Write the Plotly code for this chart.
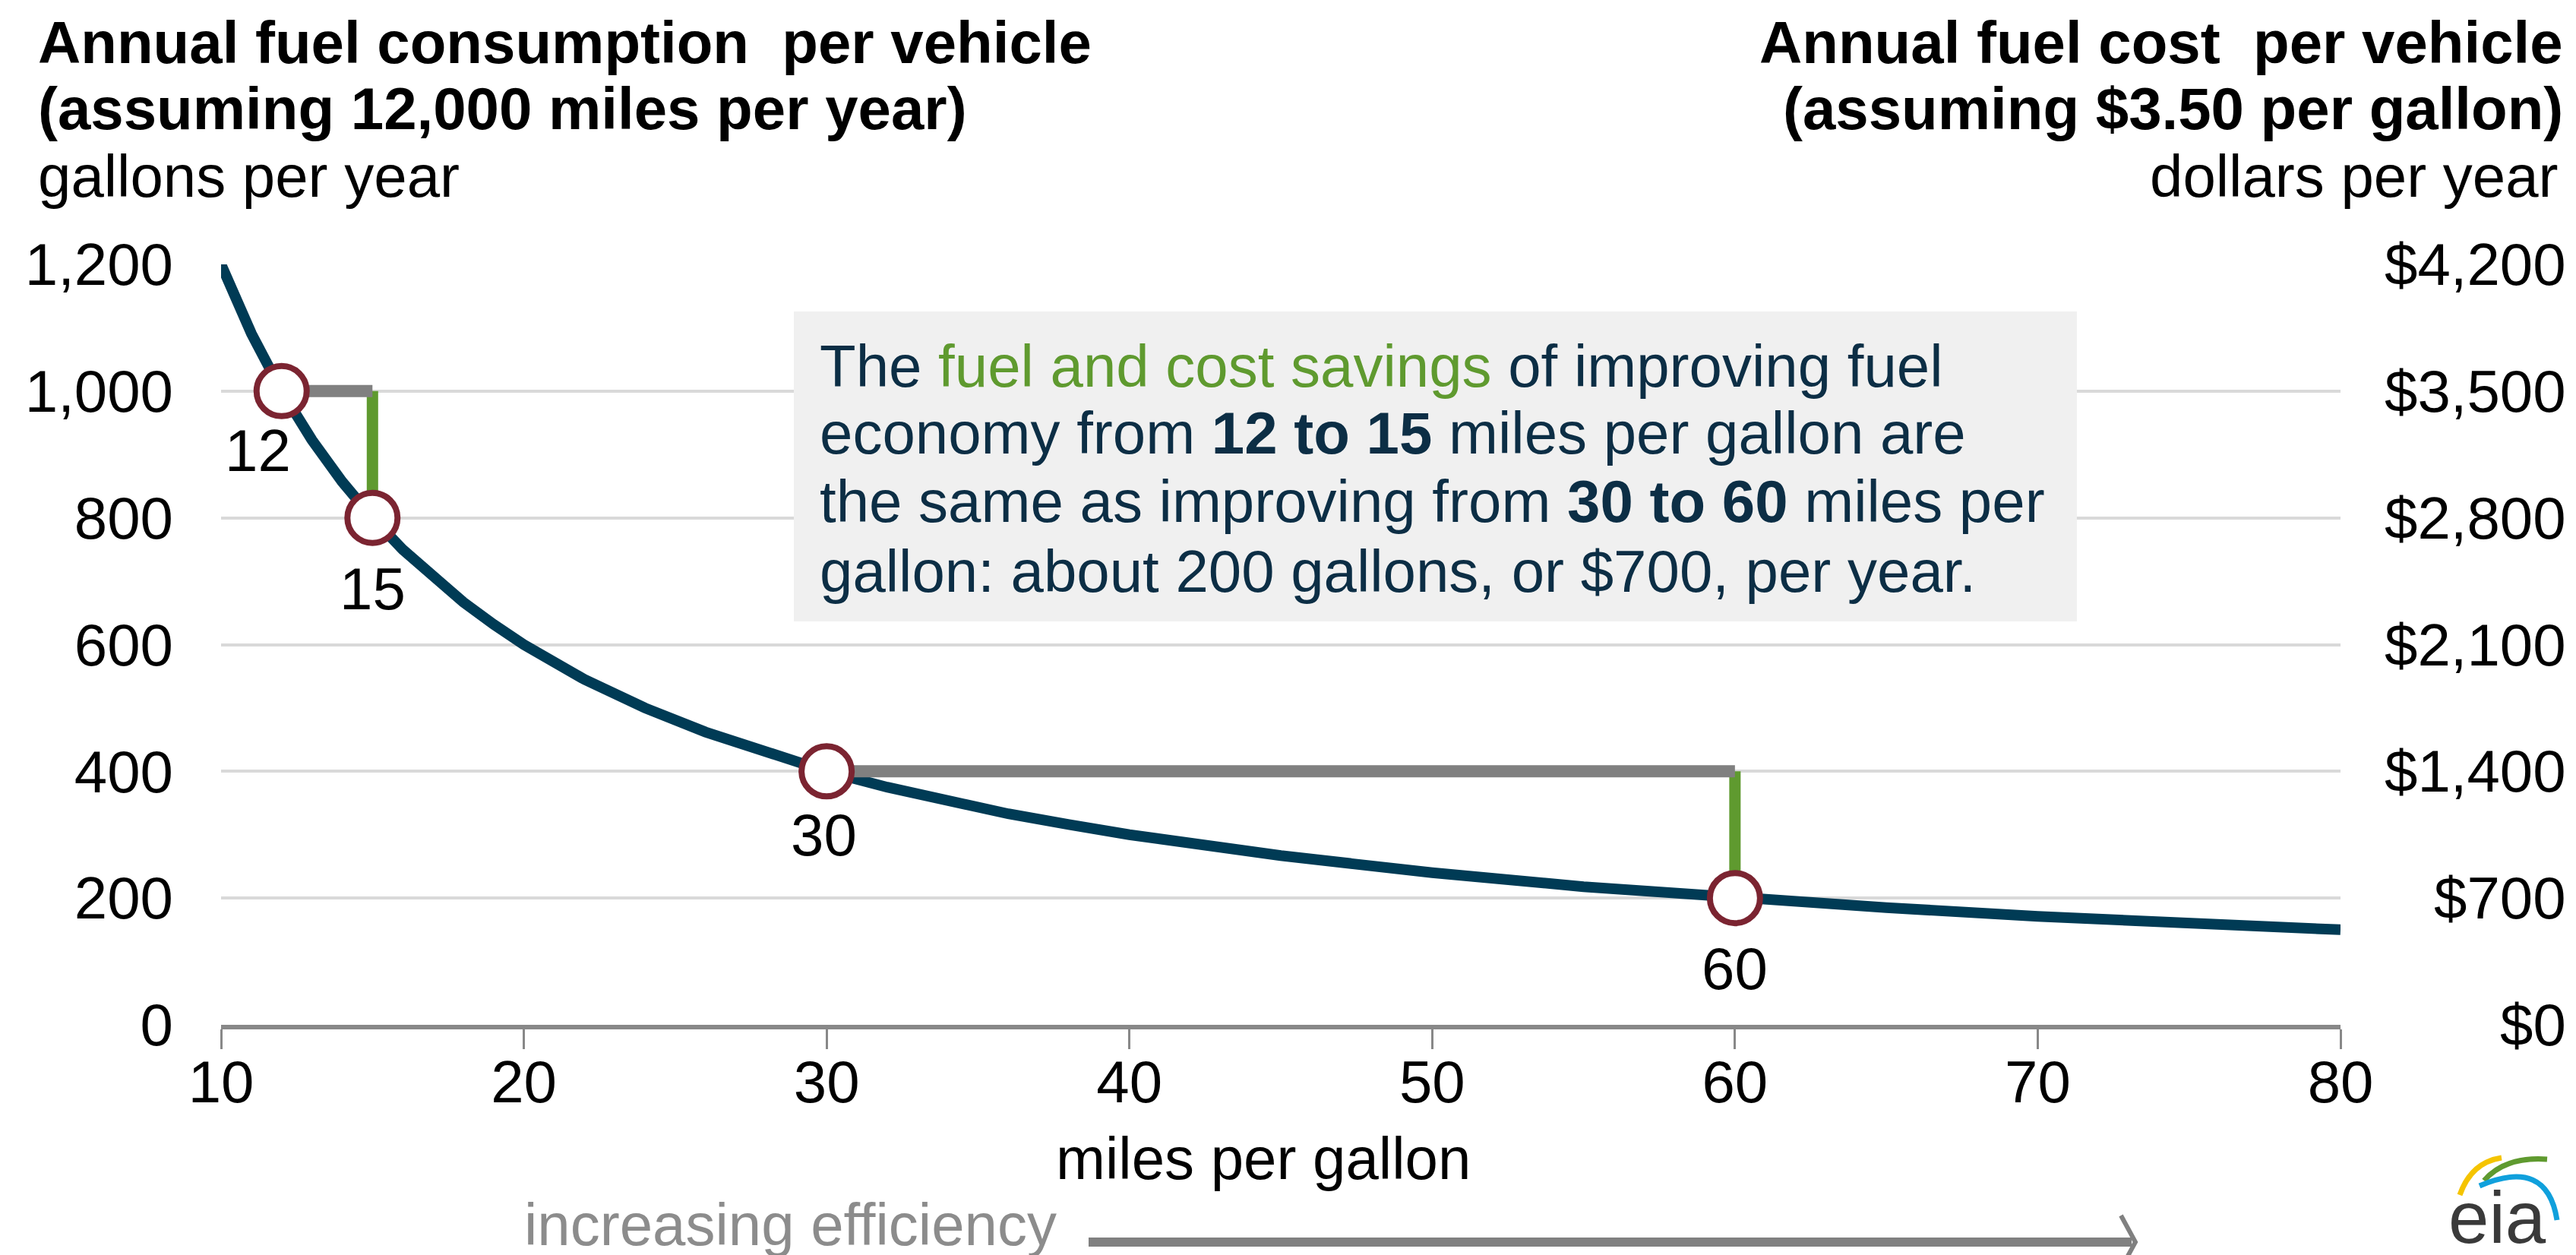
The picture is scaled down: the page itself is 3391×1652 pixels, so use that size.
import plotly.graph_objects as go

# curve: gallons per year at a given fuel economy
mpg = [10, 11, 12, 13, 14, 15, 16, 17, 18, 19, 20, 22, 24, 26, 28, 30, 32, 34, 36, 38,
       40, 45, 50, 55, 60, 65, 70, 75, 80]
gallons = [1200, 1091, 1000, 923, 857, 800, 750, 706, 667, 632, 600, 545, 500, 462, 429, 400,
           375, 353, 333, 316, 300, 267, 240, 218, 200, 185, 171, 160, 150]

# highlighted points
point_mpg = [12, 15, 30, 60]
point_gallons = [1000, 800, 400, 200]
point_labels = ["12", "15", "30", "60"]

# improvements compared (from -> to)
step_from_mpg = [12, 30]
step_to_mpg = [15, 60]
step_from_gal = [1000, 400]
step_to_gal = [800, 200]

gallon_ticks = [0, 200, 400, 600, 800, 1000, 1200]
gallon_labels = ["0", "200", "400", "600", "800", "1,000", "1,200"]
dollar_labels = ["$0", "$700", "$1,400", "$2,100", "$2,800", "$3,500", "$4,200"]
mpg_ticks = [10, 20, 30, 40, 50, 60, 70, 80]

FONT = "Liberation Sans, Arial, sans-serif"
NAVY = "#003b55"
MAROON = "#7b2431"
GREEN = "#5f9a2f"
GRAY = "#808080"
TEXT = "#0c2e45"
FS = 78

W, H = 3391, 1652
L, R, T, B = 283, 3073, 340, 1341


def px(x):
    return (x - L) / (R - L)


def py(y):
    return (B - y) / (B - T)


fig = go.Figure()

fig.add_trace(go.Scatter(x=mpg, y=gallons, mode="lines",
                         line=dict(color=NAVY, width=14), hoverinfo="skip"))

for i in range(len(step_from_mpg)):
    fig.add_trace(go.Scatter(x=[step_to_mpg[i], step_to_mpg[i]],
                             y=[step_from_gal[i], step_to_gal[i]], mode="lines",
                             line=dict(color=GREEN, width=15)))
    fig.add_trace(go.Scatter(x=[step_from_mpg[i], step_to_mpg[i]],
                             y=[step_from_gal[i], step_from_gal[i]], mode="lines",
                             line=dict(color=GRAY, width=16)))

fig.add_trace(go.Scatter(x=point_mpg, y=point_gallons, mode="markers", cliponaxis=False,
                         marker=dict(size=66, color="white",
                                     line=dict(color=MAROON, width=8))))

ann = []
# labels under the points
label_shift = [(-31, -78), (0, -93), (-4, -84), (0, -93)]
for m, g, t, (dx, dy) in zip(point_mpg, point_gallons, point_labels, label_shift):
    ann.append(dict(x=m, y=g, xref="x", yref="y", text=t, showarrow=False,
                    xshift=dx, yshift=dy, font=dict(size=FS, color="black")))

# right axis (dollars), lined up with gallon gridlines
for g, t in zip(gallon_ticks, dollar_labels):
    ann.append(dict(x=px(3372), y=g, xref="paper", yref="y", text=t, showarrow=False,
                    xanchor="right", yanchor="middle", font=dict(size=FS, color="black")))

# titles
left_title = [("<b>Annual fuel consumption  per vehicle</b>", 48),
              ("<b>(assuming 12,000 miles per year)</b>", 135),
              ("gallons per year", 224)]
for t, y in left_title:
    ann.append(dict(x=px(40), y=py(y), xref="paper", yref="paper", text=t, showarrow=False,
                    xanchor="left", yanchor="middle", font=dict(size=FS, color="black")))
right_title = [("<b>Annual fuel cost  per vehicle</b>", 48, 3368),
               ("<b>(assuming $3.50 per gallon)</b>", 135, 3368),
               ("dollars per year", 224, 3362)]
for t, y, x in right_title:
    ann.append(dict(x=px(x), y=py(y), xref="paper", yref="paper", text=t, showarrow=False,
                    xanchor="right", yanchor="middle", font=dict(size=FS, color="black")))

# callout box text
box_lines = [
    ("The <span style='color:%s'>fuel and cost savings</span> of improving fuel" % GREEN, 474),
    ("economy from <b>12 to 15</b> miles per gallon are", 562),
    ("the same as improving from <b>30 to 60</b> miles per", 652),
    ("gallon: about 200 gallons, or $700, per year.", 744),
]
for t, y in box_lines:
    ann.append(dict(x=px(1069), y=py(y), xref="paper", yref="paper", text=t, showarrow=False,
                    xanchor="left", yanchor="middle", font=dict(size=FS, color=TEXT)))

ann.append(dict(x=px(1655), y=py(1517), xref="paper", yref="paper", text="miles per gallon",
                showarrow=False, xanchor="center", yanchor="middle",
                font=dict(size=FS, color="black")))
ann.append(dict(x=px(680), y=py(1604), xref="paper", yref="paper", text="increasing efficiency",
                showarrow=False, xanchor="left", yanchor="middle",
                font=dict(size=FS, color="#8c8c8c")))
ann.append(dict(x=px(3279), y=py(1594), xref="paper", yref="paper", text="eia",
                showarrow=False, xanchor="center", yanchor="middle",
                font=dict(size=96, color="#3a3a3a")))

shapes = [
    dict(type="rect", xref="paper", yref="paper", layer="above",
         x0=px(1037), x1=px(2726), y0=py(402), y1=py(810),
         fillcolor="#f0f0f0", line=dict(width=0)),
    dict(type="line", xref="paper", yref="paper", x0=px(1425), x1=px(2798),
         y0=py(1627), y1=py(1627), line=dict(color=GRAY, width=12)),
    dict(type="path", xref="paper", yref="paper",
         path="M %f,%f L %f,%f L %f,%f" % (px(2784), py(1592), px(2803), py(1627), px(2784), py(1662)),
         line=dict(color=GRAY, width=6)),
    # logo arcs
    dict(type="path", xref="paper", yref="paper",
         path="M %f,%f Q %f,%f %f,%f" % (px(3230), py(1565), px(3245), py(1522), px(3285), py(1516)),
         line=dict(color="#f5c400", width=7)),
    dict(type="path", xref="paper", yref="paper",
         path="M %f,%f Q %f,%f %f,%f" % (px(3262), py(1546), px(3290), py(1514), px(3345), py(1518)),
         line=dict(color="#5f9a2f", width=7)),
    dict(type="path", xref="paper", yref="paper",
         path="M %f,%f Q %f,%f %f,%f" % (px(3256), py(1553), px(3345), py(1515), px(3358), py(1598)),
         line=dict(color="#10a0dc", width=7)),
]

fig.update_layout(
    width=W, height=H,
    margin=dict(l=L, r=W - R, t=T, b=H - B),
    paper_bgcolor="white", plot_bgcolor="white",
    showlegend=False,
    font=dict(family=FONT, size=FS, color="black"),
    annotations=ann,
    shapes=shapes,
    xaxis=dict(range=[10, 80], tickvals=mpg_ticks, showgrid=False, zeroline=False,
               showline=True, linecolor="#888888", linewidth=6,
               ticks="outside", ticklen=26, tickwidth=3, tickcolor="#888888",
               ticklabelstandoff=-24, tickfont=dict(size=FS, color="black")),
    yaxis=dict(range=[0, 1200], tickvals=gallon_ticks, ticktext=gallon_labels,
               showgrid=True, gridcolor="#d9d9d9", gridwidth=4, zeroline=False,
               showline=False, ticks="", ticklabelstandoff=62,
               tickfont=dict(size=FS, color="black")),
)

fig.write_html("out.html")
